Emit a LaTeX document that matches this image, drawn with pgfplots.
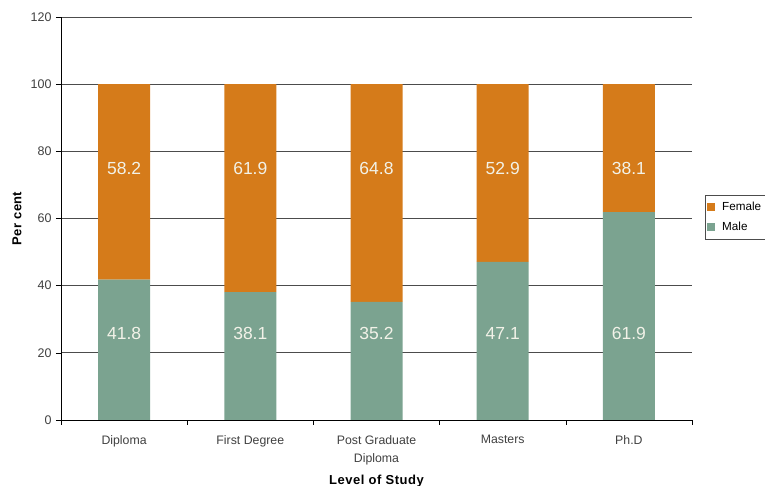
\documentclass[border=0pt]{standalone}
\usepackage{fontspec}
\setmainfont{Liberation Sans}
\usepackage{pgfplots}
\pgfplotsset{compat=1.18}
\definecolor{fem}{HTML}{D57B1A}
\definecolor{mal}{HTML}{7BA390}
\definecolor{lbl}{HTML}{F2F2E8}
\begin{document}
\begin{tikzpicture}
\useasboundingbox (-61pt,-66pt) rectangle (704pt,420pt);
\begin{axis}[
  at={(0,0)}, anchor=south west,
  scale only axis, width=631pt, height=403pt,
  ybar stacked, bar width=52pt,
  xmin=-0.5, xmax=4.5, ymin=0, ymax=120,
  ytick={0,20,...,120},
  xtick={0,1,2,3,4},
  xticklabels={Diploma,First Degree,{Post Graduate\\Diploma},Masters,Ph.D},
  minor xtick={-0.5,0.5,...,4.5},
  major x tick style={draw=none},
  minor tick length=5pt,
  major tick length=5pt,
  tick pos=left,
  tick align=outside,
  axis line style={black},
  axis x line*=bottom, axis y line*=left,
  ymajorgrids, grid style={black!70, line width=0.7pt},
  tick style={black, line width=0.5pt},
  /pgf/number format/assume math mode=true,
  yticklabel style={font=\fontsize{12.5}{14}\selectfont, text=black!75, xshift=-1pt},
  xticklabel style={font=\fontsize{12.3}{18}\selectfont, text=black!75, align=center, yshift=-7pt},
  xlabel={Level of Study}, ylabel={Per cent},
  xlabel style={font=\bfseries\fontsize{13}{15}\selectfont\addfontfeature{LetterSpace=4}, at={(rel axis cs:0.5,0)}, yshift=-61pt, anchor=center},
  ylabel style={font=\bfseries\fontsize{13}{15}\selectfont\addfontfeature{LetterSpace=3}, at={(rel axis cs:0,0.5)}, yshift=44pt, anchor=center},
  legend style={at={(axis description cs:1.0206,0.5583)}, anchor=north west, draw=black!70, font=\fontsize{11.7}{13}\selectfont, inner xsep=2pt, inner ysep=5pt, row sep=6pt, legend cell align=left},
  legend image code/.code={\fill[#1] (0pt,-4pt) rectangle (8pt,4pt); \path (13pt,0pt);},
  reverse legend,
]
\addplot[fill=mal, draw=none] coordinates {(0,41.8) (1,38.1) (2,35.2) (3,47.1) (4,61.9)};
\addplot[fill=fem, draw=none] coordinates {(0,58.2) (1,61.9) (2,64.8) (3,52.9) (4,38.1)};
\legend{Male,Female}
\end{axis}
\begin{axis}[
  at={(0,0)}, anchor=south west,
  scale only axis, width=631pt, height=403pt,
  xmin=-0.5, xmax=4.5, ymin=0, ymax=120,
  hide axis,
  nodes near coords, point meta=explicit symbolic,
  nodes near coords style={font=\fontsize{17.5}{19}\selectfont, text=lbl, anchor=center},
]
\addplot[only marks, mark=none] coordinates {(0,25.8)[41.8] (1,25.8)[38.1] (2,25.8)[35.2] (3,25.8)[47.1] (4,25.8)[61.9]};
\addplot[only marks, mark=none] coordinates {(0,74.8)[58.2] (1,74.8)[61.9] (2,74.8)[64.8] (3,74.8)[52.9] (4,74.8)[38.1]};
\end{axis}
\end{tikzpicture}
\end{document}
